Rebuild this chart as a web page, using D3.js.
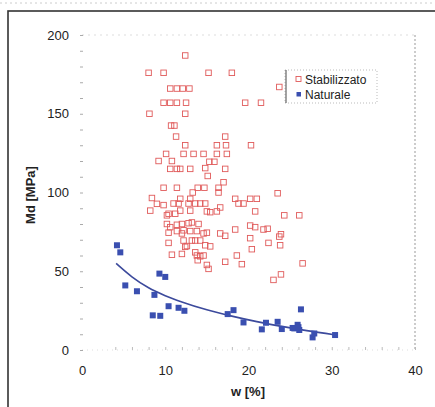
<!DOCTYPE html>
<html><head><meta charset="utf-8">
<script src="https://cdn.jsdelivr.net/npm/d3@7"></script>
<style>
body{margin:0;background:#fff;}
text{font-family:"Liberation Sans",Arial,sans-serif;}
</style></head>
<body><svg id="c" width="435" height="407"></svg>
<script>
// ---- data ----
const xTicks = [0, 10, 20, 30, 40];
const yTicks = [0, 50, 100, 150, 200];
const legendLabels = ["Stabilizzato", "Naturale"];

// Stabilizzato: [w %, Md MPa]
const stabW = [12.4,8.0,9.8,15.2,18.0,23.7,10.6,11.4,12.1,12.9,9.8,10.6,11.4,12.5,19.6,21.5,8.1,12.4,10.7,11.1,
 11.3,17.2,12.4,16.2,17.3,20.3,10.1,12.2,13.4,14.6,16.2,17.4,9.2,10.8,15.3,15.9,10.6,11.4,11.8,13.0,14.8,17.2,
 15.1,17.0,9.8,11.4,13.9,14.7,16.4,13.3,16.4,23.5,
 8.4,9.0,8.2,9.8,11.0,11.6,11.8,12.8,13.6,14.2,14.8,13.0,10.4,11.2,11.8,13.0,15.0,15.4,16.2,16.6,
 18.4,18.8,19.4,20.2,21.0,20.8,24.3,26.1,10.2,
 10.2,10.6,11.4,12.0,12.8,13.2,14.0,11.4,12.2,13.0,13.8,15.0,16.6,17.2,18.4,20.2,20.8,21.8,22.3,23.9,20.2,23.7,
 10.4,12.0,14.6,
 10.4,12.2,12.4,13.2,13.6,14.2,14.8,15.4,12.6,10.8,12.0,13.6,13.8,14.2,14.6,22.4,23.8,20.4,
 17.2,18.6,19.2,15.0,15.2,13.9,23.9,23.0,26.5];
const stabMd = [187,176,176,176,176,167,166,166,166,166,157,157,157,157,157,157,150,150,142.5,142.5,
 135.5,135.5,130,130,130,130,124.5,124.5,124.5,124.5,124.5,124.5,120,120,119.5,119.5,115,115,115,115,115.5,115,
 110.5,106.5,103,103,103,103,103,100,100,99.5,
 96.5,92.8,88.5,92,93,93,96,93,93,93,93,96,86.5,86.5,88.5,88.5,88,87.5,88,90.5,
 96,93,93,96,96,88,85.5,85.5,85.5,
 80,78,79.5,80,80.5,81,80,75.5,76,75.5,75.5,74.5,74,72.5,76.5,79,78,76.5,77,73.5,71,72,
 74.5,74,74,
 68,69.5,65.5,69.5,69.5,69.5,66.5,65.8,66,60.5,61,62,60,59.5,60,68,66.5,64,
 56,60,54.5,54,51.5,57,48,44.5,55];

// Naturale
const natW = [4.2,4.6,5.2,6.6,8.7,8.5,9.4,9.3,10.0,10.4,11.6,12.3,17.5,18.2,19.4,21.6,22.1,23.5,24.0,25.5,25.9,26.1,26.3,27.7,27.9,30.4,25.3,26.0];
const natMd = [66.5,62,41,37.3,35,22,21.7,48.5,46.4,27.8,26.8,24.9,22.8,25.3,17.5,13.1,17.3,17.9,13.3,13.7,16,12.7,25.8,8,10.5,9.5,14,14.5];

// trend line (Naturale)
const trendW = [4.1,6,8,10,12,15,18,21,24,27,30.3];
const trendMd = [55,46.5,39.5,34.5,30.5,25.5,21.5,18,15,12.3,9.7];

// ---- drawing ----
const svg = d3.select("#c");
const x = d3.scaleLinear().domain([0,40]).range([82,415]);
const y = d3.scaleLinear().domain([0,200]).range([350,35]);

// outer frame
svg.append("line").attr("x1",0).attr("x2",435).attr("y1",3).attr("y2",3)
  .attr("stroke","#ccc").attr("stroke-dasharray","2,3");
svg.append("rect").attr("x",8).attr("y",11).attr("width",440).attr("height",420)
  .attr("fill","none").attr("stroke","#333").attr("stroke-width",1.6);

// plot frame (dotted)
const g = svg.append("g");
g.append("line").attr("x1",x(0)).attr("x2",x(40)).attr("y1",y(200)).attr("y2",y(200))
  .attr("stroke","#ddd").attr("stroke-dasharray","2,4");
g.append("line").attr("x1",x(40)).attr("x2",x(40)).attr("y1",y(200)).attr("y2",y(0))
  .attr("stroke","#999").attr("stroke-dasharray","2,2");
g.append("line").attr("x1",x(0)).attr("x2",x(40)).attr("y1",y(0)).attr("y2",y(0))
  .attr("stroke","#ddd").attr("stroke-dasharray","1,4");

// minor ticks
const yMinor = d3.axisLeft(y).tickValues(d3.range(0,201,10)).tickSize(3).tickFormat("");
const gym = svg.append("g").attr("transform",`translate(${x(0)+1},0)`).call(yMinor);
gym.select(".domain").remove();
gym.selectAll("line").attr("stroke","#aaa");
const xMinor = d3.axisTop(x).tickValues(d3.range(4,41,2)).tickSize(3).tickFormat("");
const gxm = svg.append("g").attr("transform",`translate(0,${y(0)})`).call(xMinor);
gxm.select(".domain").remove();
gxm.selectAll("line").attr("stroke","#bbb");

// axes labels
const ya = d3.axisLeft(y).tickValues(yTicks).tickSize(0).tickPadding(13);
const gy = svg.append("g").attr("transform",`translate(${x(0)},0)`).call(ya);
gy.select(".domain").remove();
gy.selectAll("text").attr("font-size",13).attr("fill","#222").attr("font-family","Liberation Sans, Arial, sans-serif");

const xa = d3.axisBottom(x).tickValues(xTicks).tickSize(0).tickPadding(16);
const gx = svg.append("g").attr("transform",`translate(0,${y(0)})`).call(xa);
gx.select(".domain").remove();
gx.selectAll("text").attr("font-size",13).attr("fill","#222").attr("font-family","Liberation Sans, Arial, sans-serif");

svg.append("text").attr("x",248).attr("y",396).attr("text-anchor","middle")
  .attr("font-size",13).attr("font-weight","bold").attr("fill","#222").text("w [%]");
svg.append("text").attr("transform","translate(35,195) rotate(-90)").attr("text-anchor","middle")
  .attr("font-size",13).attr("font-weight","bold").attr("fill","#222").text("Md [MPa]");

// stabilizzato points
const s = 5.5;
svg.append("g").selectAll("rect").data(stabW.map((w,i)=>[w,stabMd[i]])).join("rect")
  .attr("x",d=>x(d[0])-s/2).attr("y",d=>y(d[1])-s/2).attr("width",s).attr("height",s)
  .attr("fill","none").attr("stroke","#e05a5a").attr("stroke-width",0.9);

// trend line
const line = d3.line().x(d=>x(d[0])).y(d=>y(d[1])).curve(d3.curveMonotoneX);
svg.append("path").datum(trendW.map((w,i)=>[w,trendMd[i]])).attr("d",line)
  .attr("fill","none").attr("stroke","#3c4a9c").attr("stroke-width",1.6);

// naturale points
const n = 6;
svg.append("g").selectAll("rect").data(natW.map((w,i)=>[w,natMd[i]])).join("rect")
  .attr("x",d=>x(d[0])-n/2).attr("y",d=>y(d[1])-n/2).attr("width",n).attr("height",n)
  .attr("fill","#3a4fb0");

// legend
const lg = svg.append("g");
lg.append("rect").attr("x",285).attr("y",70).attr("width",92).attr("height",33)
  .attr("fill","#fff").attr("stroke","#bbb").attr("stroke-dasharray","1,2");
lg.append("line").attr("x1",286).attr("x2",286).attr("y1",70).attr("y2",103).attr("stroke","#666").attr("stroke-width",1.2);
lg.append("rect").attr("x",296).attr("y",76.5).attr("width",5).attr("height",5)
  .attr("fill","none").attr("stroke","#e05a5a").attr("stroke-width",0.9);
lg.append("rect").attr("x",296.5).attr("y",92).attr("width",4.5).attr("height",4.5).attr("fill","#3a4fb0");
lg.selectAll("text.l").data(legendLabels).join("text").attr("class","l")
  .attr("x",305).attr("y",(d,i)=>83.5+i*15.5).attr("font-size",12).attr("fill","#222").text(d=>d);
</script></body></html>
